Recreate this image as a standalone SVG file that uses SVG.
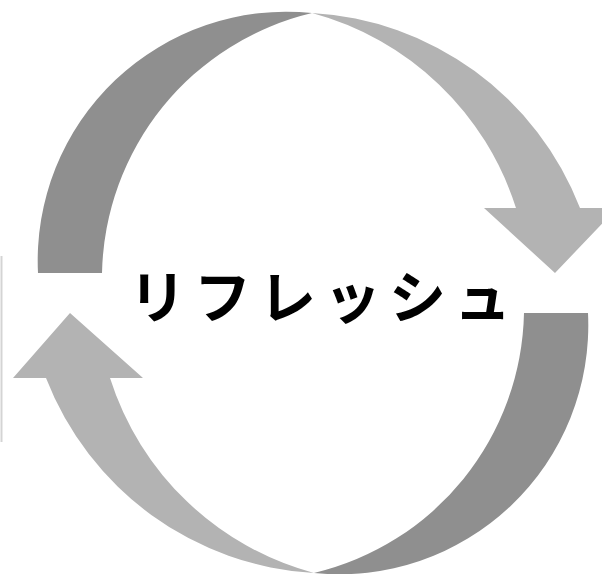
<svg xmlns="http://www.w3.org/2000/svg" width="602" height="574" viewBox="0 0 602 574">
  <style>
    .dark { fill: #8f8f8f; }
    .light { fill: #b3b3b3; }
    .label { font-family: "Noto Sans CJK JP", "Noto Sans CJK SC", sans-serif; font-weight: bold; font-size: 57px; fill: #000; letter-spacing: 8px; }
  </style>
  <rect width="602" height="574" fill="#ffffff"/>
  <line x1="1.5" y1="256" x2="1.5" y2="442" stroke="#d4d4d4" stroke-width="2"/>
  <g id="connectors">
    <g id="top-arrow">
      <path class="dark" d="M 38,273 A 249,249 0 0 1 312,13 A 273,273 0 0 0 102,273 Z"/>
      <path class="light" d="M 312,13 A 306,306 0 0 1 580,208 L 617,208 L 555,273 L 484,208 L 516,208 A 294,294 0 0 0 312,13 Z"/>
    </g>
    <g id="bottom-arrow">
      <path class="dark" d="M 588,313 A 249,249 0 0 1 314,573 A 273,273 0 0 0 524,313 Z"/>
      <path class="light" d="M 314,573 A 306,306 0 0 1 46,378 L 13,378 L 70,313 L 143,378 L 110,378 A 294,294 0 0 0 314,573 Z"/>
    </g>
  </g>
  <g id="center-label">
    <text class="label" x="129" y="318">リフレッシュ</text>
  </g>
</svg>
